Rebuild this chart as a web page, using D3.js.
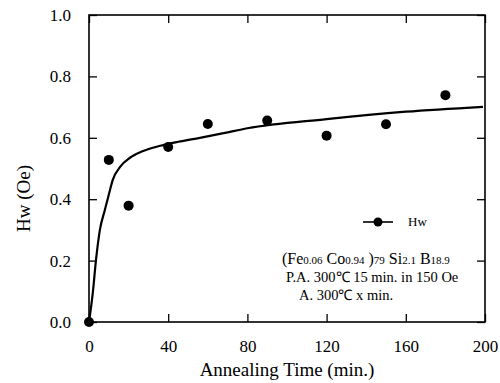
<!DOCTYPE html>
<html>
<head>
<meta charset="utf-8">
<script src="https://cdn.jsdelivr.net/npm/d3@7"></script>
<style>
  body { margin: 0; background: #fff; }
  text { font-family: "Liberation Serif", "Times New Roman", serif; fill: #000; }
</style>
</head>
<body>
<div id="chart"></div>
<script>
// measured points
const times = [0, 10, 20, 40, 60, 90, 120, 150, 180];
const hwValues = [0.0, 0.528, 0.379, 0.57, 0.645, 0.656, 0.607, 0.644, 0.739];

// fitted curve
const fitTimes = [0, 2, 3.5, 5.5, 8, 10.6, 12, 15.7, 20.7, 27, 36, 45, 56, 68, 80, 120, 160, 199];
const fitValues = [0, 0.10, 0.2, 0.3, 0.365, 0.43, 0.463, 0.505, 0.535, 0.556, 0.574, 0.587, 0.6, 0.615, 0.631, 0.661, 0.685, 0.701];

const xTicks = [0, 40, 80, 120, 160, 200];
const yTicks = [0, 0.2, 0.4, 0.6, 0.8, 1.0];

const width = 500;
const height = 383;
const margin = { top: 15, right: 15, bottom: 61, left: 89 };

const svg = d3.select("#chart")
  .append("svg")
  .attr("width", width)
  .attr("height", height);

const x = d3.scaleLinear()
  .domain([0, 200])
  .range([margin.left, width - margin.right]);

const y = d3.scaleLinear()
  .domain([0, 1])
  .range([height - margin.bottom, margin.top]);

// axes, ticks pointing inward on all four sides
const styleAxis = g => {
  g.select(".domain").remove();
  g.selectAll(".tick line").attr("stroke", "#000").attr("stroke-width", 1.3);
  g.selectAll(".tick text")
    .style("font-size", "17px")
    .style("font-family", "'Liberation Serif', serif");
};

svg.append("g")
  .attr("transform", `translate(0,${y(0)})`)
  .call(d3.axisBottom(x).tickValues(xTicks).tickFormat(d3.format("d")).tickSizeInner(-8).tickPadding(18))
  .call(styleAxis);

svg.append("g")
  .attr("transform", `translate(${x(0)},0)`)
  .call(d3.axisLeft(y).tickValues(yTicks).tickFormat(d3.format(".1f")).tickSizeInner(-8).tickPadding(18))
  .call(styleAxis);

svg.append("g")
  .attr("transform", `translate(0,${y(1)})`)
  .call(d3.axisTop(x).tickValues(xTicks).tickFormat("").tickSizeInner(-8))
  .call(styleAxis);

svg.append("g")
  .attr("transform", `translate(${x(200)},0)`)
  .call(d3.axisRight(y).tickValues(yTicks).tickFormat("").tickSizeInner(-8))
  .call(styleAxis);

// frame
svg.append("rect")
  .attr("x", x(0))
  .attr("y", y(1))
  .attr("width", x(200) - x(0))
  .attr("height", y(0) - y(1))
  .attr("fill", "none")
  .attr("stroke", "#000")
  .attr("stroke-width", 1.6);

// fit curve
const line = d3.line()
  .x(d => x(d[0]))
  .y(d => y(d[1]))
  .curve(d3.curveMonotoneX);

svg.append("path")
  .datum(d3.zip(fitTimes, fitValues))
  .attr("fill", "none")
  .attr("stroke", "#000")
  .attr("stroke-width", 2.2)
  .attr("d", line);

// points
svg.selectAll("circle.pt")
  .data(d3.zip(times, hwValues))
  .join("circle")
  .attr("class", "pt")
  .attr("cx", d => x(d[0]))
  .attr("cy", d => y(d[1]))
  .attr("r", 5)
  .attr("fill", "#000");

// axis titles
svg.append("text")
  .attr("x", (x(0) + x(200)) / 2)
  .attr("y", 376)
  .attr("text-anchor", "middle")
  .attr("font-size", 19)
  .text("Annealing Time (min.)");

svg.append("text")
  .attr("transform", `translate(30,${(y(0) + y(1)) / 2 + 30}) rotate(-90)`)
  .attr("text-anchor", "middle")
  .attr("font-size", 19)
  .text("Hw (Oe)");

// legend
const lg = svg.append("g");
lg.append("line")
  .attr("x1", 363).attr("x2", 393)
  .attr("y1", 222).attr("y2", 222)
  .attr("stroke", "#000").attr("stroke-width", 1.6);
lg.append("circle")
  .attr("cx", 378).attr("cy", 222).attr("r", 4.5).attr("fill", "#000");
lg.append("text")
  .attr("x", 408).attr("y", 226)
  .attr("font-size", 13)
  .text("Hw");

// composition annotation
const note = svg.append("text")
  .attr("x", 282).attr("y", 264)
  .attr("font-size", 16);
const parts = [
  ["(Fe", 16], ["0.06", 11], [" Co", 16], ["0.94", 11], [" )", 16],
  ["79", 11], [" Si", 16], ["2.1", 11], [" B", 16], ["18.9", 11]
];
parts.forEach(p => note.append("tspan").attr("font-size", p[1]).text(p[0]));

svg.append("text")
  .attr("x", 286).attr("y", 282)
  .attr("font-size", 14.5)
  .text("P.A. 300℃ 15 min. in 150 Oe");

svg.append("text")
  .attr("x", 299).attr("y", 300)
  .attr("font-size", 14.5)
  .text("A. 300℃ x min.");
</script>
</body>
</html>
